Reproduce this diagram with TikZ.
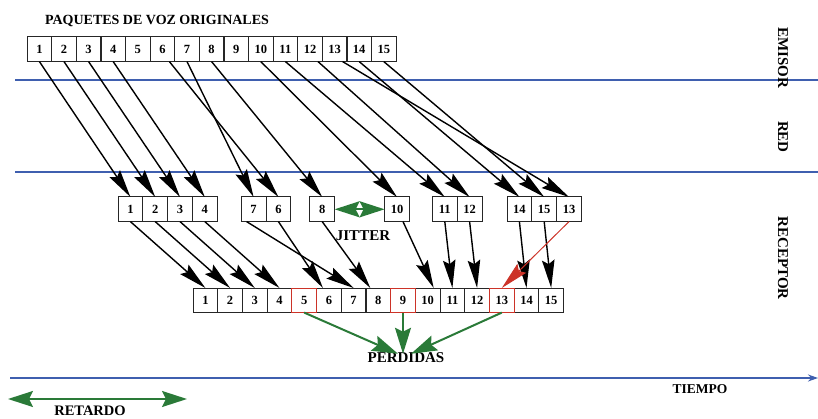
\documentclass[tikz,border=0pt]{standalone}
\usepackage{fontspec}
\setmainfont{Liberation Serif}
\usepackage{tikz}
\usetikzlibrary{positioning,arrows.meta}
\definecolor{LnBlue}{HTML}{3F5FAF}
\definecolor{PkGreen}{HTML}{2A7A38}
\definecolor{PkRed}{HTML}{CC3328}

\begin{document}
\begin{tikzpicture}[
  x=1pt, y=-1pt,
  node distance=0pt,
  paq/.style={draw=black!85, line width=1pt, minimum width=24.8pt, minimum height=24.6pt, inner sep=0pt, outer sep=0pt, font=\bfseries\fontsize{12.5}{12.5}\selectfont},
  etiq/.style={font=\bfseries\fontsize{15}{15}\selectfont, inner sep=0pt},
  zona/.style={etiq, rotate=-90},
  linea/.style={LnBlue, line width=1.2pt},
  flecha/.style={-{Stealth[length=28pt,width=12.5pt,inset=4pt]}, line width=1.4pt},
  verde/.style={PkGreen, line width=2pt, -{Stealth[length=26pt,width=16pt,inset=4pt]}},
  verdedoble/.style={PkGreen, line width=2pt, {Stealth[length=25pt,width=16pt,inset=4pt]}-{Stealth[length=25pt,width=16pt,inset=4pt]}}
]
\useasboundingbox (0,0) rectangle (818,419);

% zonas
\coordinate (l1a) at (15,80);  \coordinate (l1b) at (818,80);
\coordinate (l2a) at (15,172); \coordinate (l2b) at (818,172);
\coordinate (ejeIzq) at (10,378); \coordinate (ejeDer) at (818,378);
\draw[linea] (l1a) -- (l1b);
\draw[linea] (l2a) -- (l2b);
\draw[linea, line width=1.4pt, -{Stealth[length=10pt,width=7pt]}] (ejeIzq) -- (ejeDer);
\node[zona] (emisor) at (783,58) {EMISOR};
\node[zona] (red) at (783,137) {RED};
\node[zona] (receptor) at (783,258) {RECEPTOR};
\node[etiq, font=\bfseries\fontsize{13.5}{13.5}\selectfont] (tiempo) at (700,389) {TIEMPO};

% paquetes enviados
\node[etiq, font=\bfseries\fontsize{14}{14}\selectfont] (titulo) at (157,21) {PAQUETES DE VOZ ORIGINALES};
\foreach \i in {1,...,15}
  \node[paq, anchor=north west] (emi\i) at ({27+24.6*(\i-1)},37) {\i};

% paquetes recibidos
\node[paq, anchor=north west] (lle1) at (118,197) {1};
\node[paq, right=of lle1] (lle2) {2};
\node[paq, right=of lle2] (lle3) {3};
\node[paq, right=of lle3] (lle4) {4};
\node[paq, right=24pt of lle4] (lle7) {7};
\node[paq, right=of lle7] (lle6) {6};
\node[paq, right=19pt of lle6] (lle8) {8};
\node[paq, right=50pt of lle8] (lle10) {10};
\node[paq, right=23pt of lle10] (lle11) {11};
\node[paq, right=of lle11] (lle12) {12};
\node[paq, right=25pt of lle12] (lle14) {14};
\node[paq, right=of lle14] (lle15) {15};
\node[paq, right=of lle15] (lle13) {13};
\node[etiq] (jitter) at (363,236) {JITTER};
\draw[verdedoble] (lle8) -- (lle10);

% paquetes reproducidos
\foreach \i in {1,...,15}
  \node[paq, anchor=north west] (rep\i) at ({193+24.7*(\i-1)},288) {\i};
\foreach \i in {5,9,13}
  \draw[PkRed, line width=1pt] (rep\i.north west) rectangle (rep\i.south east);
\node[etiq] (perdidas) at (406,358) {PERDIDAS};

% flechas
\foreach \i/\da/\db in {1/0/0,2/0/0,3/0/0,4/0/0,6/7/0,7/0/0,8/0/0,10/0/0,11/0/0,12/8/0,13/8/0,14/0/0,15/0/0}
  \draw[flecha] ([xshift=\da pt]emi\i.south) -- ([xshift=\db pt]lle\i.north);
\foreach \i/\da/\db in {1/0/0,2/0/0,3/0/0,4/0/0,6/0/-6,7/-7/0,8/0/-8,10/6/6,11/0/0,12/0/0,14/0/0,15/0/0}
  \draw[flecha] ([xshift=\da pt]lle\i.south) -- ([xshift=\db pt]rep\i.north);
\draw[flecha, PkRed, line width=1pt] (lle13.south) -- (rep13.north);
\draw[verde] (rep5.south) -- ([xshift=-8pt,yshift=-1pt]perdidas.north);
\draw[verde] (rep9.south) -- ([yshift=-1pt]perdidas.north -| rep9.south);
\draw[verde] (rep13.south) -- ([xshift=5pt,yshift=-1pt]perdidas.north);

% retardo
\coordinate (retIzq) at (8,399); \coordinate (retDer) at (187,399);
\draw[verdedoble] (retIzq) -- (retDer);
\node[etiq, font=\bfseries\fontsize{14.5}{14.5}\selectfont] (retardo) at (90,411) {RETARDO};
\end{tikzpicture}
\end{document}
